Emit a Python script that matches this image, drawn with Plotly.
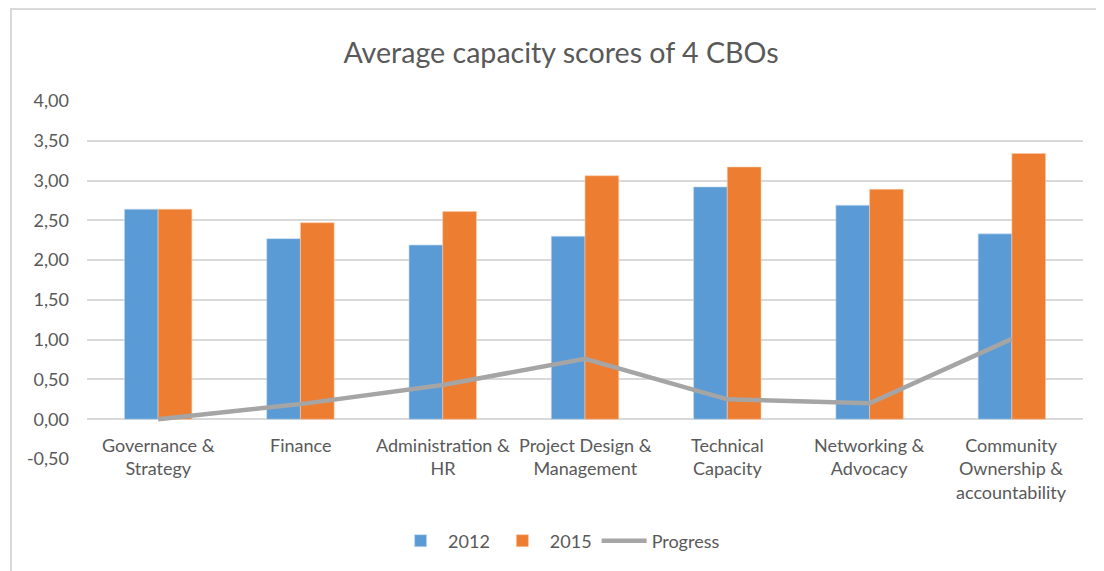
import plotly.graph_objects as go

categories = ["Governance &<br>Strategy", "Finance", "Administration &<br>HR",
              "Project Design &<br>Management", "Technical<br>Capacity",
              "Networking &<br>Advocacy", "Community<br>Ownership &<br>accountability"]
cat_ids = ["Governance & Strategy", "Finance", "Administration & HR",
           "Project Design & Management", "Technical Capacity",
           "Networking & Advocacy", "Community Ownership & accountability"]
scores_2012 = [2.64, 2.27, 2.19, 2.30, 2.92, 2.69, 2.33]
scores_2015 = [2.64, 2.47, 2.61, 3.06, 3.17, 2.89, 3.34]
progress = [0.00, 0.19, 0.43, 0.76, 0.25, 0.20, 1.01]
y_ticks = [-0.5, 0, 0.5, 1.0, 1.5, 2.0, 2.5, 3.0, 3.5, 4.0]
y_tick_labels = ["-0,50", "0,00", "0,50", "1,00", "1,50", "2,00", "2,50", "3,00", "3,50", "4,00"]

FONT = "Lato"
TXT = "#595959"
GRID = "#d9d9d9"

W, H = 1096, 563  # page body has an 8px margin

fig = go.Figure()
fig.add_trace(go.Bar(x=cat_ids, y=scores_2012, name="2012",
                     marker=dict(color="#5b9bd5", line=dict(color="#c9dcef", width=0.6))))
fig.add_trace(go.Bar(x=cat_ids, y=scores_2015, name="2015",
                     marker=dict(color="#ed7d31", line=dict(color="#f7c9a8", width=0.6))))
fig.add_trace(go.Scatter(x=cat_ids, y=progress, name="Progress", mode="lines",
                         line=dict(color="#a5a5a5", width=4.5)))

annotations = []
for cid, lab in zip(cat_ids, categories):
    annotations.append(dict(x=cid, y=0, xref="x", yref="y", text=lab,
                            showarrow=False, yanchor="top", yshift=-13,
                            font=dict(family=FONT, size=18, color=TXT)))

fig.update_layout(
    width=W, height=H,
    margin=dict(l=79, r=21, t=93, b=112),
    paper_bgcolor="white", plot_bgcolor="white",
    barmode="group", bargap=0.526, bargroupgap=0,
    title=dict(text="Average capacity scores of 4 CBOs", x=553 / W, xref="container",
               y=1 - 45 / H, yref="container", xanchor="center", yanchor="middle",
               font=dict(family=FONT, size=28.6, color=TXT)),
    xaxis=dict(showticklabels=False, showgrid=False, showline=False, ticks=""),
    yaxis=dict(range=[-0.5, 4.0], tickvals=y_ticks, ticktext=y_tick_labels,
               showgrid=True, gridcolor=GRID, gridwidth=1.8,
               zeroline=True, zerolinecolor=GRID, zerolinewidth=1.8,
               showline=False, ticks="", ticklabelstandoff=17,
               tickfont=dict(family=FONT, size=18, color=TXT)),
    legend=dict(orientation="h", x=0.474, xanchor="center", y=-0.229, yanchor="middle",
                font=dict(family=FONT, size=18, color=TXT), traceorder="normal",
                itemwidth=45),
    annotations=annotations,
    shapes=[dict(type="rect", xref="paper", yref="paper",
                 x0=(11 - 87) / 996, x1=1.2, y0=-0.5, y1=(459 - 9) / 358,
                 line=dict(color=GRID, width=2), fillcolor="rgba(0,0,0,0)", layer="below")],
)

fig.write_html("out.html")
